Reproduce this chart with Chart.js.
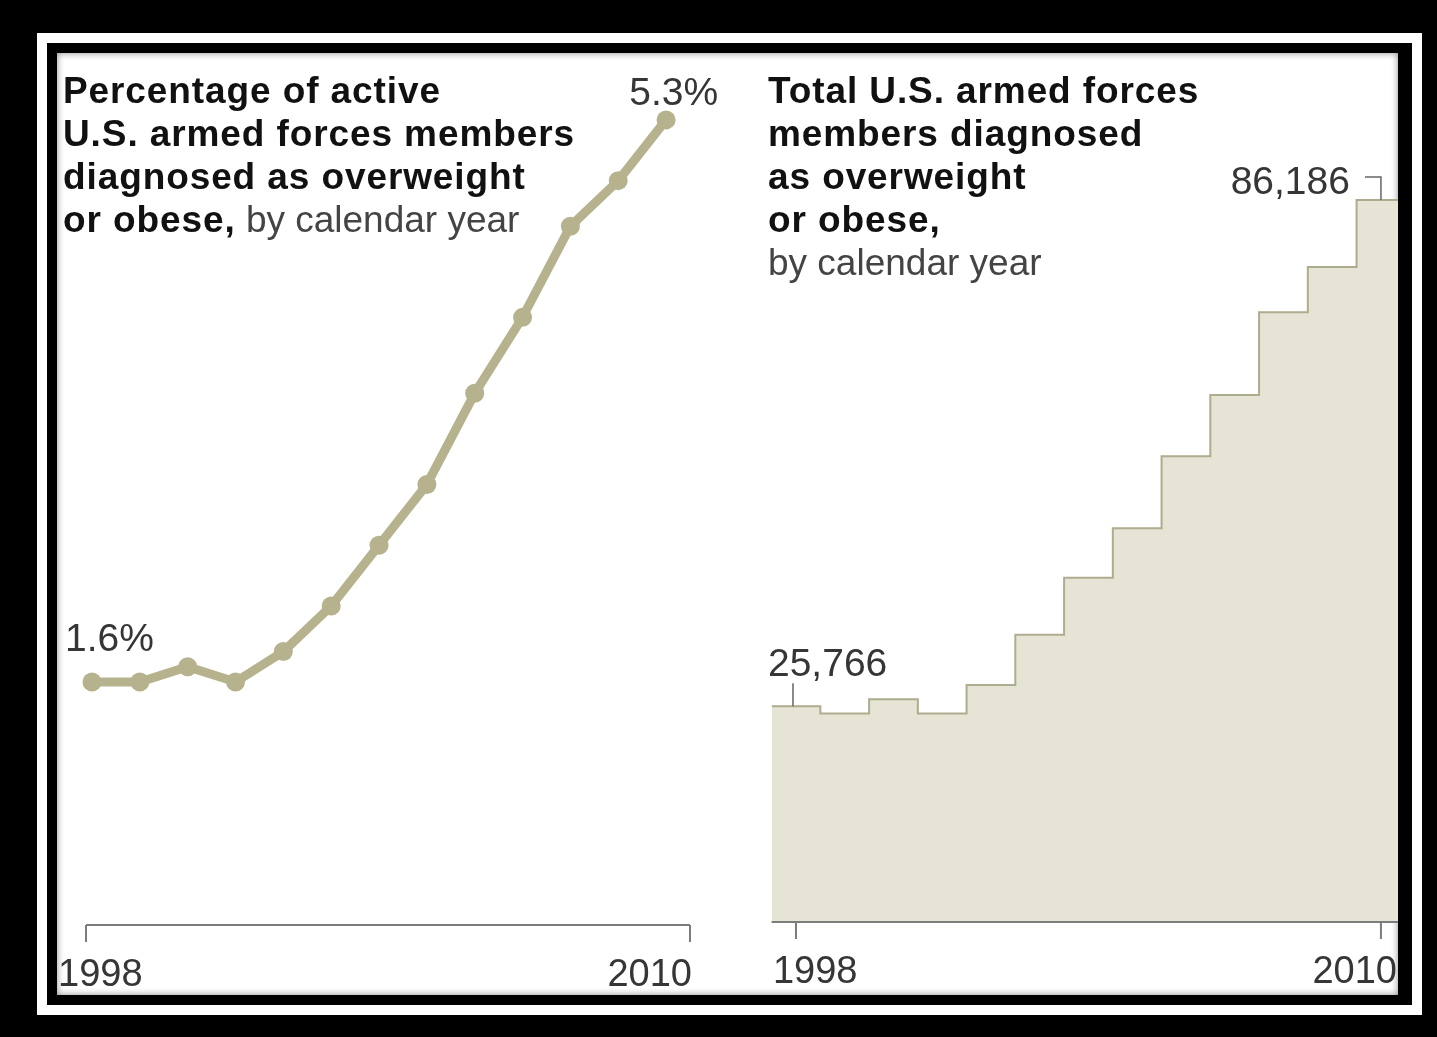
<!DOCTYPE html>
<html>
<head>
<meta charset="utf-8">
<script src="https://cdn.jsdelivr.net/npm/chart.js@4.4.1/dist/chart.umd.min.js"></script>
<style>
  html, body { margin: 0; padding: 0; background: #000; }
  #page { position: relative; width: 1437px; height: 1037px; background: #000; overflow: hidden; }
  .frame-white { position: absolute; left: 37px; top: 33px; width: 1385px; height: 982px; background: #fff; }
  .frame-black { position: absolute; left: 47px; top: 43px; width: 1365px; height: 962px; background: #000; }
  .content { position: absolute; left: 57px; top: 53px; width: 1341px; height: 942px; background: #fff;
             box-shadow: inset 0 0 7px rgba(0,0,0,0.45); }
  canvas { position: absolute; top: 53px; }
  #pctChart { left: 57px; }
  #totalChart { left: 740px; }
  .title { position: absolute; top: 69px; font-family: "Liberation Sans", Arial, sans-serif;
           font-size: 37px; line-height: 43px; color: #111; white-space: nowrap; }
  .title b { font-weight: bold; letter-spacing: 0.9px; }
  .title span { font-weight: normal; color: #444; }
</style>
</head>
<body>
<div id="page">
  <div class="frame-white"></div>
  <div class="frame-black"></div>
  <div class="content"></div>
  <canvas id="pctChart" width="683" height="942"></canvas>
  <canvas id="totalChart" width="658" height="942"></canvas>
  <div class="title" style="left:63px">
    <b>Percentage of active</b><br>
    <b>U.S. armed forces members</b><br>
    <b>diagnosed as overweight</b><br>
    <b>or obese,</b> <span>by calendar year</span>
  </div>
  <div class="title" style="left:768px">
    <b>Total U.S. armed forces</b><br>
    <b>members diagnosed</b><br>
    <b>as overweight</b><br>
    <b>or obese,</b><br>
    <span>by calendar year</span>
  </div>
</div>

<script>
// data
const years = [1998, 1999, 2000, 2001, 2002, 2003, 2004, 2005, 2006, 2007, 2008, 2009, 2010];
const pctValues = [1.6, 1.6, 1.7, 1.6, 1.8, 2.1, 2.5, 2.9, 3.5, 4.0, 4.6, 4.9, 5.3];
const totalValues = [25766, 24900, 26600, 24900, 28300, 34300, 41100, 47000, 55600, 62900, 72800, 78200, 86186];
const tickLabels = ["1998", "2010"];

const lineColor = "#b5b28d";
const fillColor = "#e6e4d4";
const stepColor = "#aeac8e";
const axisColor = "#7c7c7c";
const textColor = "#363636";
const numFont = '39px "Liberation Sans", Arial, sans-serif';

function drawAxis(chart, tickXs, labelDx) {
    const { ctx, chartArea, scales } = chart;
    const y0 = scales.y.getPixelForValue(0);
    ctx.save();
    ctx.strokeStyle = axisColor;
    ctx.lineWidth = 2;
    ctx.beginPath();
    ctx.moveTo(chartArea.left, y0);
    ctx.lineTo(chartArea.right, y0);
    tickXs.forEach((tx) => {
        ctx.moveTo(tx, y0);
        ctx.lineTo(tx, y0 + 17);
    });
    ctx.stroke();
    ctx.fillStyle = textColor;
    ctx.font = '38px "Liberation Sans", Arial, sans-serif';
    ctx.textBaseline = "alphabetic";
    ctx.textAlign = "left";
    ctx.fillText(tickLabels[0], tickXs[0] + labelDx[0], y0 + 61);
    ctx.textAlign = "right";
    ctx.fillText(tickLabels[1], tickXs[1] + labelDx[1], y0 + 61);
    ctx.restore();
}

const pctDecor = {
    id: "pctDecor",
    afterDraw(chart) {
        const { ctx, chartArea, scales: { x, y } } = chart;
        drawAxis(chart, [chartArea.left, chartArea.right], [-28, 2]);
        const n = years.length - 1;
        const x0 = x.getPixelForValue(years[0]), y0 = y.getPixelForValue(pctValues[0]);
        const x1 = x.getPixelForValue(years[n]), y1 = y.getPixelForValue(pctValues[n]);
        ctx.save();
        ctx.fillStyle = textColor;
        ctx.font = numFont;
        ctx.textAlign = "left";
        ctx.fillText(pctValues[0].toFixed(1) + "%", x0 - 27, y0 - 31);
        ctx.textAlign = "right";
        ctx.fillText(pctValues[n].toFixed(1) + "%", x1 + 52, y1 - 15);
        ctx.restore();
    },
};

const totalDecor = {
    id: "totalDecor",
    afterDraw(chart) {
        const { ctx, scales: { x, y } } = chart;
        const n = years.length - 1;
        const x0 = x.getPixelForValue(years[0]), y0 = y.getPixelForValue(totalValues[0]);
        const x1 = x.getPixelForValue(years[n]), y1 = y.getPixelForValue(totalValues[n]);
        drawAxis(chart, [x0, x1], [-23, 16]);
        ctx.save();
        ctx.strokeStyle = "#666";
        ctx.lineWidth = 1.5;
        ctx.beginPath();
        ctx.moveTo(x0 - 3, y0 - 23);
        ctx.lineTo(x0 - 3, y0);
        ctx.moveTo(x1 - 16, y1 - 23);
        ctx.lineTo(x1, y1 - 23);
        ctx.lineTo(x1, y1);
        ctx.stroke();
        ctx.fillStyle = textColor;
        ctx.font = numFont;
        ctx.textAlign = "left";
        ctx.fillText(totalValues[0].toLocaleString("en-US"), x0 - 28, y0 - 30);
        ctx.textAlign = "right";
        ctx.fillText(totalValues[n].toLocaleString("en-US"), x1 - 31, y1 - 6);
        ctx.restore();
    },
};

new Chart(document.getElementById("pctChart"), {
    type: "line",
    data: {
        datasets: [{
            data: years.map((yr, i) => ({ x: yr, y: pctValues[i] })),
            borderColor: lineColor,
            backgroundColor: lineColor,
            borderWidth: 9,
            pointRadius: 9.5,
            pointBorderWidth: 0,
            tension: 0,
            clip: false,
        }],
    },
    options: {
        responsive: false,
        animation: false,
        devicePixelRatio: 1,
        layout: { padding: { left: 29, right: 50, top: 36.5, bottom: 70 } },
        scales: {
            x: { type: "linear", min: 1997.875, max: 2010.5, display: false },
            y: { min: 0, max: 5.5, display: false },
        },
        plugins: { legend: { display: false }, tooltip: { enabled: false } },
    },
    plugins: [pctDecor],
});

// steps: each year covers half a year on either side of its tick
const stepPoints = years.map((yr, i) => ({ x: yr - 0.5, y: totalValues[i] }));
stepPoints.push({ x: years[years.length - 1] + 0.5, y: totalValues[totalValues.length - 1] });

new Chart(document.getElementById("totalChart"), {
    type: "line",
    data: {
        datasets: [{
            data: stepPoints,
            stepped: "before",
            fill: "origin",
            backgroundColor: fillColor,
            borderColor: stepColor,
            borderWidth: 2,
            pointRadius: 0,
        }],
    },
    options: {
        responsive: false,
        animation: false,
        devicePixelRatio: 1,
        layout: { padding: { left: 31.6, right: 0, top: 73.2, bottom: 73 } },
        scales: {
            x: { type: "linear", min: 1997.5, max: 2010.35, display: false },
            y: { min: 0, max: 95000, display: false },
        },
        plugins: { legend: { display: false }, tooltip: { enabled: false } },
    },
    plugins: [totalDecor],
});
</script>
</body>
</html>
